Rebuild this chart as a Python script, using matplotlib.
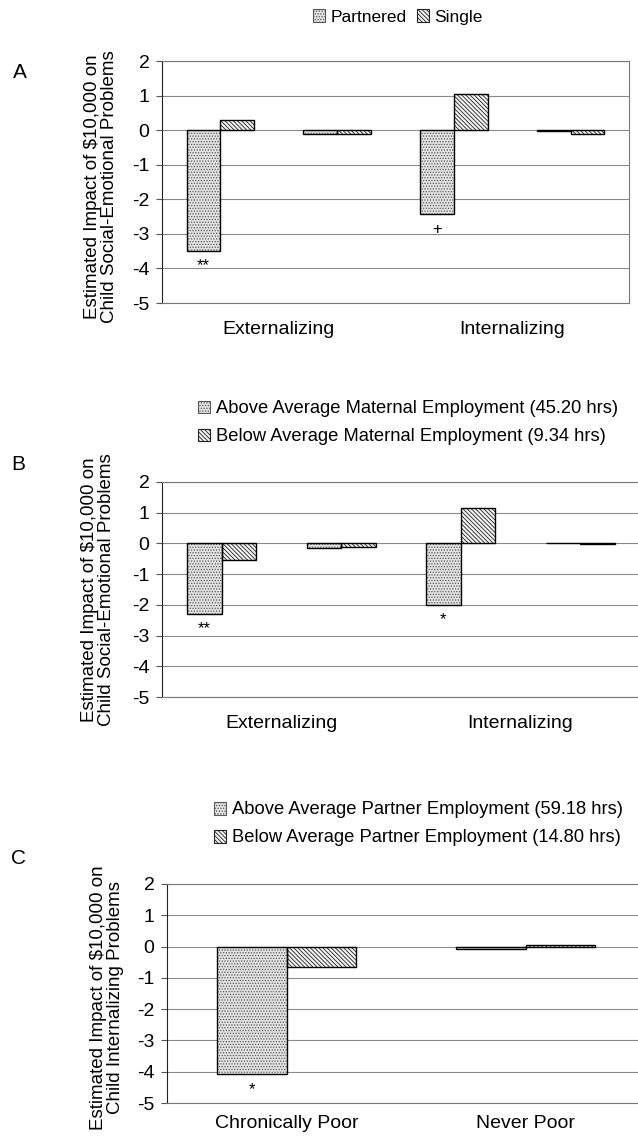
import numpy as np
import matplotlib.pyplot as plt
from matplotlib.patches import Patch

plt.rcParams['font.family'] = ['Liberation Sans', 'DejaVu Sans']
plt.rcParams['hatch.linewidth'] = 0.6

# panel A: income effect by family structure
a_groups = ["Externalizing", "Internalizing"]
a_partnered = [-3.49, -0.12, -2.44, -0.02]
a_single = [0.28, -0.12, 1.04, -0.11]
a_marks = ["**", "", "+", ""]
a_labels = ["Partnered", "Single"]

# panel B: by maternal employment
b_groups = ["Externalizing", "Internalizing"]
b_above = [-2.29, -0.14, -1.99, 0.0]
b_below = [-0.53, -0.10, 1.16, -0.03]
b_marks = ["**", "", "*", ""]
b_labels = ["Above Average Maternal Employment (45.20 hrs)",
            "Below Average Maternal Employment (9.34 hrs)"]

# panel C: by partner employment
c_groups = ["Chronically Poor", "Never Poor"]
c_above = [-4.08, -0.07]
c_below = [-0.66, 0.06]
c_marks = ["*", ""]
c_labels = ["Above Average Partner Employment (59.18 hrs)",
            "Below Average Partner Employment (14.80 hrs)"]

yticks = [2, 1, 0, -1, -2, -3, -4, -5]

W, H = 638, 1137
fig = plt.figure(figsize=(W / 100, H / 100), dpi=100)

dot_style = dict(facecolor='#e2e2e2', edgecolor='#5a5a5a', hatch='......', linewidth=0)
line_style = dict(facecolor='#f4f4f4', edgecolor='#222222', hatch='\\\\\\\\\\\\\\\\', linewidth=0)


def px_axes(left, top, right, bottom):
    return fig.add_axes([left / W, 1 - bottom / H, (right - left) / W, (bottom - top) / H])


def draw_panel(ax, s1, s2, marks, groups, xpad=13):
    n = len(s1)
    x = np.arange(n)
    w = 0.29
    for xs, vals, st in [(x - w / 2, s1, dot_style), (x + w / 2, s2, line_style)]:
        ax.bar(xs, vals, w, zorder=3, **st)
        ax.bar(xs, vals, w, fill=False, edgecolor='black', linewidth=1, zorder=4)
    for xi, v, m in zip(x, s1, marks):
        if m:
            ax.annotate(m, (xi - w / 2, v), xytext=(0, -11), textcoords='offset points',
                        ha='center', va='center', fontsize=12)
    ax.set_xlim(-0.5, n - 0.5)
    ax.set_ylim(-5, 2)
    ax.set_yticks(yticks)
    ax.set_yticklabels([str(t) for t in yticks], fontsize=14)
    ax.grid(axis='y', color='#8a8a8a', linewidth=0.8, zorder=0)
    ax.tick_params(axis='y', length=4, width=0.8, color='#555555', pad=5)
    per = n // len(groups)
    centers = [np.mean(x[i * per:(i + 1) * per]) for i in range(len(groups))]
    ax.set_xticks(centers)
    ax.set_xticklabels(groups, fontsize=14)
    ax.tick_params(axis='x', length=0, pad=xpad)
    for s in ['top', 'right', 'bottom']:
        ax.spines[s].set_color('#777777')
        ax.spines[s].set_linewidth(0.8)
    ax.spines['left'].set_color('#222222')


def handles():
    return [Patch(**dict(dot_style, linewidth=0.8)),
            Patch(**dict(line_style, linewidth=0.8))]


leg_kw = dict(frameon=False, handlelength=0.7, handleheight=0.7, handletextpad=0.3)
ylab_kw = dict(rotation=90, ha='center', va='center', fontsize=13.5, linespacing=1.0)

# A
axA = px_axes(162, 61, 629, 303)
draw_panel(axA, a_partnered, a_single, a_marks, a_groups)
fig.legend(handles(), a_labels, loc='center', bbox_to_anchor=(398 / W, 1 - 17 / H), ncol=2,
           fontsize=12.5, columnspacing=0.6, **leg_kw)
fig.text(101 / W, 1 - 187 / H, "Estimated Impact of $10,000 on\nChild Social-Emotional Problems", **ylab_kw)
fig.text(20 / W, 1 - 73 / H, "A", fontsize=15, ha='center', va='center')

# B
axB = px_axes(162, 482, 640, 697)
draw_panel(axB, b_above, b_below, b_marks, b_groups)
fig.legend(handles(), b_labels, loc='upper left', bbox_to_anchor=(181 / W, 1 - 384 / H), ncol=1,
           fontsize=13.2, labelspacing=0.6, **leg_kw)
fig.text(98 / W, 1 - 590 / H, "Estimated Impact of $10,000 on\nChild Social-Emotional Problems", **ylab_kw)
fig.text(18 / W, 1 - 465 / H, "B", fontsize=15, ha='center', va='center')

# C
axC = px_axes(167, 884, 645, 1103)
draw_panel(axC, c_above, c_below, c_marks, c_groups, xpad=9)
fig.legend(handles(), c_labels, loc='upper left', bbox_to_anchor=(197 / W, 1 - 785 / H), ncol=1,
           fontsize=13.2, labelspacing=0.6, **leg_kw)
fig.text(107 / W, 1 - 998 / H, "Estimated Impact of $10,000 on\nChild Internalizing Problems", **ylab_kw)
fig.text(18 / W, 1 - 858 / H, "C", fontsize=15, ha='center', va='center')

fig.savefig("out.png", dpi=100)
